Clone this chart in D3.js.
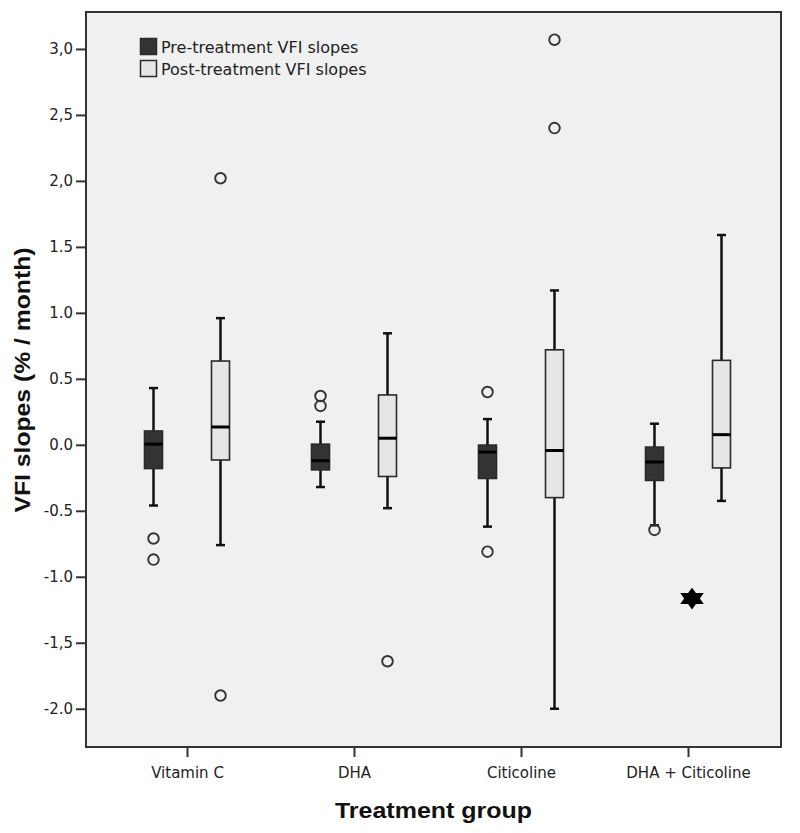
<!DOCTYPE html>
<html>
<head>
<meta charset="utf-8">
<script src="https://cdn.jsdelivr.net/npm/d3@7"></script>
<style>
  html, body { margin: 0; padding: 0; background: #ffffff; }
  svg { display: block; font-family: "DejaVu Sans", "Liberation Sans", Arial, sans-serif; }
</style>
</head>
<body>
<svg id="chart" width="800" height="833"></svg>
<script>
// ---- data ----
const categories = ["Vitamin C", "DHA", "Citicoline", "DHA + Citicoline"];
const seriesNames = ["Pre-treatment VFI slopes", "Post-treatment VFI slopes"];

const preWhiskerLow  = [-0.46, -0.32, -0.62, -0.61];
const preQ1          = [-0.18, -0.19, -0.255, -0.27];
const preMedian      = [0.005, -0.12, -0.055, -0.13];
const preQ3          = [0.105, 0.005, -0.002, -0.017];
const preWhiskerHigh = [0.43, 0.175, 0.195, 0.16];
const preOutliers    = [[-0.71, -0.87], [0.37, 0.295], [0.40, -0.81], [-0.645]];

const postWhiskerLow  = [-0.76, -0.48, -2.0, -0.425];
const postQ1          = [-0.115, -0.24, -0.40, -0.175];
const postMedian      = [0.135, 0.05, -0.043, 0.077];
const postQ3          = [0.635, 0.378, 0.72, 0.64];
const postWhiskerHigh = [0.96, 0.845, 1.17, 1.59];
const postOutliers    = [[2.02, -1.90], [-1.64], [3.07, 2.40], []];
const postExtremes    = [[], [], [], [-1.165]];

const yTickValues = [3.0, 2.5, 2.0, 1.5, 1.0, 0.5, 0.0, -0.5, -1.0, -1.5, -2.0];
const yTickLabels = ["3,0", "2,5", "2,0", "1.5", "1.0", "0.5", "0.0", "-0.5", "-1.0", "-1,5", "-2.0"];

const xTitle = "Treatment group";
const yTitle = "VFI slopes (% / month)";

// ---- layout ----
const svg = d3.select("#chart");
const frame = { left: 86, top: 12, right: 781, bottom: 747 };

const y = d3.scaleLinear().domain([-2.29, 3.28]).range([frame.bottom, frame.top]);
const x = d3.scalePoint().domain(categories).range([187, 688]);
const seriesOffset = d3.scalePoint().domain(seriesNames).range([-33.5, 33.5]);

const fills = { [seriesNames[0]]: "#333333", [seriesNames[1]]: "#e6e6e6" };
const boxW = 18;

// plot background
svg.append("rect")
  .attr("x", frame.left).attr("y", frame.top)
  .attr("width", frame.right - frame.left).attr("height", frame.bottom - frame.top)
  .attr("fill", "#f0f0f0").attr("stroke", "#333").attr("stroke-width", 2);

// build box records
const boxes = [];
categories.forEach((c, i) => {
  boxes.push({ cat: c, s: seriesNames[0], lo: preWhiskerLow[i], q1: preQ1[i], med: preMedian[i], q3: preQ3[i], hi: preWhiskerHigh[i], out: preOutliers[i], ext: [] });
  boxes.push({ cat: c, s: seriesNames[1], lo: postWhiskerLow[i], q1: postQ1[i], med: postMedian[i], q3: postQ3[i], hi: postWhiskerHigh[i], out: postOutliers[i], ext: postExtremes[i] });
});
const cx = d => x(d.cat) + seriesOffset(d.s);

const g = svg.append("g");

// whiskers
g.selectAll(".whisk").data(boxes).join("line")
  .attr("x1", cx).attr("x2", cx)
  .attr("y1", d => y(d.hi)).attr("y2", d => y(d.lo))
  .attr("stroke", "#111").attr("stroke-width", 2.5);

// caps
["hi", "lo"].forEach(k => {
  g.selectAll(".cap-" + k).data(boxes).join("line")
    .attr("x1", d => cx(d) - 4.5).attr("x2", d => cx(d) + 4.5)
    .attr("y1", d => y(d[k])).attr("y2", d => y(d[k]))
    .attr("stroke", "#111").attr("stroke-width", 2.5);
});

// boxes
g.selectAll(".box").data(boxes).join("rect")
  .attr("x", d => cx(d) - boxW / 2).attr("width", boxW)
  .attr("y", d => y(d.q3)).attr("height", d => y(d.q1) - y(d.q3))
  .attr("fill", d => fills[d.s]).attr("stroke", "#2a2a2a").attr("stroke-width", 1.6);

// medians
g.selectAll(".med").data(boxes).join("line")
  .attr("x1", d => cx(d) - boxW / 2).attr("x2", d => cx(d) + boxW / 2)
  .attr("y1", d => y(d.med)).attr("y2", d => y(d.med))
  .attr("stroke", "#000").attr("stroke-width", 3);

// outliers
const outPts = boxes.flatMap(b => b.out.map(v => ({ b, v })));
g.selectAll(".out").data(outPts).join("circle")
  .attr("cx", d => cx(d.b)).attr("cy", d => y(d.v)).attr("r", 5.3)
  .attr("fill", "none").attr("stroke", "#333").attr("stroke-width", 1.9);

// extremes (six-pointed star)
const extPts = boxes.flatMap(b => b.ext.map(v => ({ b, v })));
const star = d3.symbol().type({
  draw(ctx, size) {
    const R = Math.sqrt(size) * 0.75, r = R * 0.58;
    for (let k = 0; k < 12; k++) {
      const a = -Math.PI / 2 + k * Math.PI / 6;
      const rad = k % 2 === 0 ? R : r;
      const px = rad * Math.cos(a), py = rad * Math.sin(a);
      if (k === 0) ctx.moveTo(px, py); else ctx.lineTo(px, py);
    }
    ctx.closePath();
  }
}).size(210);
g.selectAll(".ext").data(extPts).join("path")
  .attr("d", star)
  .attr("transform", d => `translate(${x(d.b.cat) + 4},${y(d.v)}) scale(1.25,1)`)
  .attr("fill", "#000");

// y axis
const yAxis = d3.axisLeft(y).tickValues(yTickValues)
  .tickFormat((d, i) => yTickLabels[i]).tickSize(10).tickPadding(3);
const ya = svg.append("g").attr("transform", `translate(${frame.left},0)`).call(yAxis);
ya.select(".domain").remove();
ya.selectAll(".tick line").attr("stroke", "#333").attr("stroke-width", 2);
ya.selectAll(".tick text").attr("font-size", 15).attr("fill", "#222")
  .attr("font-family", "'DejaVu Sans', sans-serif");

// x axis
const xAxis = d3.axisBottom(x).tickSize(10).tickPadding(10);
const xa = svg.append("g").attr("transform", `translate(0,${frame.bottom})`).call(xAxis);
xa.select(".domain").remove();
xa.selectAll(".tick line").attr("stroke", "#333").attr("stroke-width", 2);
xa.selectAll(".tick text").attr("font-size", 15).attr("fill", "#222")
  .attr("font-family", "'DejaVu Sans', sans-serif");

// axis titles
svg.append("text")
  .attr("x", (frame.left + frame.right) / 2).attr("y", 818)
  .attr("text-anchor", "middle").attr("font-size", 22).attr("font-weight", "bold")
  .attr("font-family", "'Liberation Sans', Arial, sans-serif")
  .attr("fill", "#111")
  .attr("textLength", 197).attr("lengthAdjust", "spacingAndGlyphs")
  .text(xTitle);

svg.append("text")
  .attr("transform", `translate(30,380) rotate(-90)`)
  .attr("text-anchor", "middle").attr("font-size", 22).attr("font-weight", "bold")
  .attr("font-family", "'Liberation Sans', Arial, sans-serif")
  .attr("fill", "#111")
  .attr("textLength", 265).attr("lengthAdjust", "spacingAndGlyphs")
  .text(yTitle);

// legend
const legend = svg.append("g").attr("transform", "translate(140,38)");
const li = legend.selectAll("g").data(seriesNames).join("g")
  .attr("transform", (d, i) => `translate(0,${i * 22})`);
li.append("rect").attr("x", 0.5).attr("y", 0.5).attr("width", 16).attr("height", 16)
  .attr("fill", d => fills[d]).attr("stroke", "#2a2a2a").attr("stroke-width", 1.5);
li.append("text").attr("x", 21).attr("y", 15)
  .attr("font-size", 16).attr("fill", "#222")
  .text(d => d);
</script>
</body>
</html>
